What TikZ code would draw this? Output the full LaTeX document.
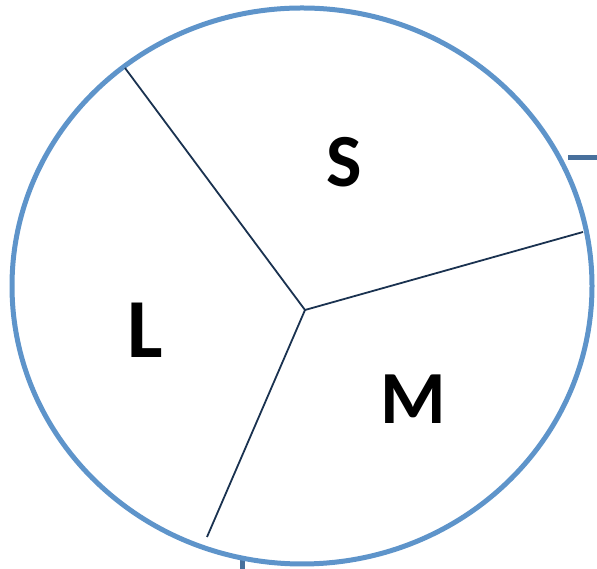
\documentclass[tikz,border=0pt]{standalone}
\usepackage{fontspec}
\setmainfont{Carlito}
\definecolor{ringblue}{RGB}{94,148,202}
\definecolor{stubblue}{RGB}{72,112,156}
\definecolor{navy}{RGB}{26,50,80}
\begin{document}
\begin{tikzpicture}[x=1pt,y=1pt,
  ring/.style={draw=ringblue,line width=5pt},
  spoke/.style={draw=navy,line width=1.8pt},
  stub/.style={draw=stubblue,line width=5pt},
  lbl/.style={font=\bfseries\fontsize{75}{75}\selectfont,text=black,inner sep=0pt},
  biglbl/.style={lbl,font=\bfseries\fontsize{84}{84}\selectfont}]
\useasboundingbox (0,0) rectangle (597,569);
\coordinate (c) at (305,259);
\coordinate (a) at (125,501);
\coordinate (b) at (583,337);
\coordinate (d) at (207,32);
\coordinate (s1) at (568,411);
\coordinate (s2) at (597,411);
\coordinate (t1) at (242,12);
\coordinate (t2) at (242,-2);
\draw[stub] (s1) -- (s2);
\draw[stub] (t1) -- (t2);
\draw[ring] (302,283) ellipse [x radius=290, y radius=278];
\draw[spoke] (c) -- (a);
\draw[spoke] (c) -- (b);
\draw[spoke] (c) -- (d);
\node[lbl] (S) at (344.5,407) {S};
\node[biglbl] (L) at (145,239) {L};
\node[lbl] (M) at (413,170) {M};
\end{tikzpicture}
\end{document}
